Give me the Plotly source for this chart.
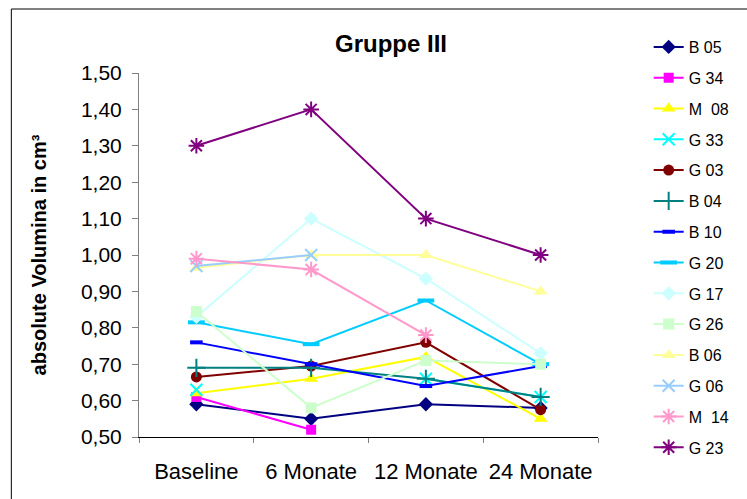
import plotly.graph_objects as go

categories = ["Baseline", "6 Monate", "12 Monate", "24 Monate"]

names = ["B 05", "G 34", "M  08", "G 33", "G 03", "B 04", "B 10",
         "G 20", "G 17", "G 26", "B 06", "G 06", "M  14", "G 23"]

b05 = [0.59, 0.55, 0.59, 0.58]
g34 = [0.61, 0.52, None, None]
m08 = [0.62, 0.66, 0.72, 0.55]
g33 = [0.63, None, 0.66, 0.61]
g03 = [0.665, 0.695, 0.76, 0.575]
b04 = [0.69, 0.69, 0.66, 0.61]
b10 = [0.76, 0.70, 0.64, 0.695]
g20 = [0.815, 0.755, 0.875, 0.70]
g17 = [0.83, 1.10, 0.935, 0.73]
g26 = [0.845, 0.58, 0.71, 0.70]
b06 = [0.965, 1.00, 1.00, 0.90]
g06 = [0.97, 1.00, None, None]
m14 = [0.99, 0.96, 0.78, None]
g23 = [1.30, 1.40, 1.10, 1.00]

series = [b05, g34, m08, g33, g03, b04, b10, g20, g17, g26, b06, g06, m14, g23]

colors = ["#000080", "#FF00FF", "#FFFF00", "#00FFFF", "#800000", "#008080", "#0000FF",
          "#00CCFF", "#CCFFFF", "#CCFFCC", "#FFFF99", "#99CCFF", "#FF99CC", "#800080"]
symbols = ["diamond", "square", "triangle-up", "x-thin-open", "circle", "cross-thin-open",
           "line-ew-open", "line-ew-open", "diamond", "square", "triangle-up",
           "x-thin-open", "asterisk-open", "asterisk-open"]
sizes = [11, 10, 12, 12, 11, 13, 9, 12, 11, 11, 12, 12, 13, 13]

fig = go.Figure()
for i, (n, v) in enumerate(zip(names, series)):
    sym = symbols[i]
    open_sym = sym.endswith("open")
    fig.add_trace(go.Scatter(
        x=categories, y=v, name=n, mode="lines+markers",
        line=dict(color=colors[i], width=2),
        marker=dict(symbol=sym, size=sizes[i], color=colors[i],
                    line=dict(color=colors[i], width=(4 if "line-ew" in sym else 2) if open_sym else 0)),
        connectgaps=False, legendgroup=str(i),
    ))

fig.update_layout(
    width=747, height=499,
    margin=dict(l=139, r=137, t=73, b=62),
    paper_bgcolor="white", plot_bgcolor="white",
    separators=",.",
    font=dict(family="Arial, Liberation Sans, sans-serif", color="black"),
    title=dict(text="<b>Gruppe III</b>", x=391 / 747, xanchor="center",
               y=1 - 44 / 499, yanchor="middle", font=dict(size=24)),
    showlegend=True,
    legend=dict(x=(662 - 139) / 471, xanchor="left", y=(437 - 30) / 364, yanchor="top",
                font=dict(size=16), tracegroupgap=7, bgcolor="rgba(0,0,0,0)",
                itemwidth=30, maxheight=499),
    xaxis=dict(type="category", range=[-0.5, 3.5], showgrid=False,
               showline=True, linecolor="black", linewidth=1,
               ticks="outside", tickson="boundaries", ticklen=5, tickcolor="#808080",
               tickfont=dict(size=22), ticklabelstandoff=15),
    yaxis=dict(range=[0.5, 1.5], dtick=0.1, tick0=0.5, tickformat=".2f", showgrid=False,
               showline=True, linecolor="#808080", linewidth=1,
               ticks="outside", ticklen=6, tickcolor="#808080",
               tickfont=dict(size=21), zeroline=False, ticklabelstandoff=6,
               title=dict(text="<b>absolute Volumina in cm³</b>", font=dict(size=20), standoff=28)),
)

fig.add_shape(type="rect", xref="paper", yref="paper",
              x0=(8 - 139) / 471, x1=(800 - 139) / 471,
              y0=(437 - 560) / 364, y1=(437 - 9) / 364,
              line=dict(color="black", width=1), fillcolor="rgba(0,0,0,0)", layer="below")

fig.write_html("out.html")
